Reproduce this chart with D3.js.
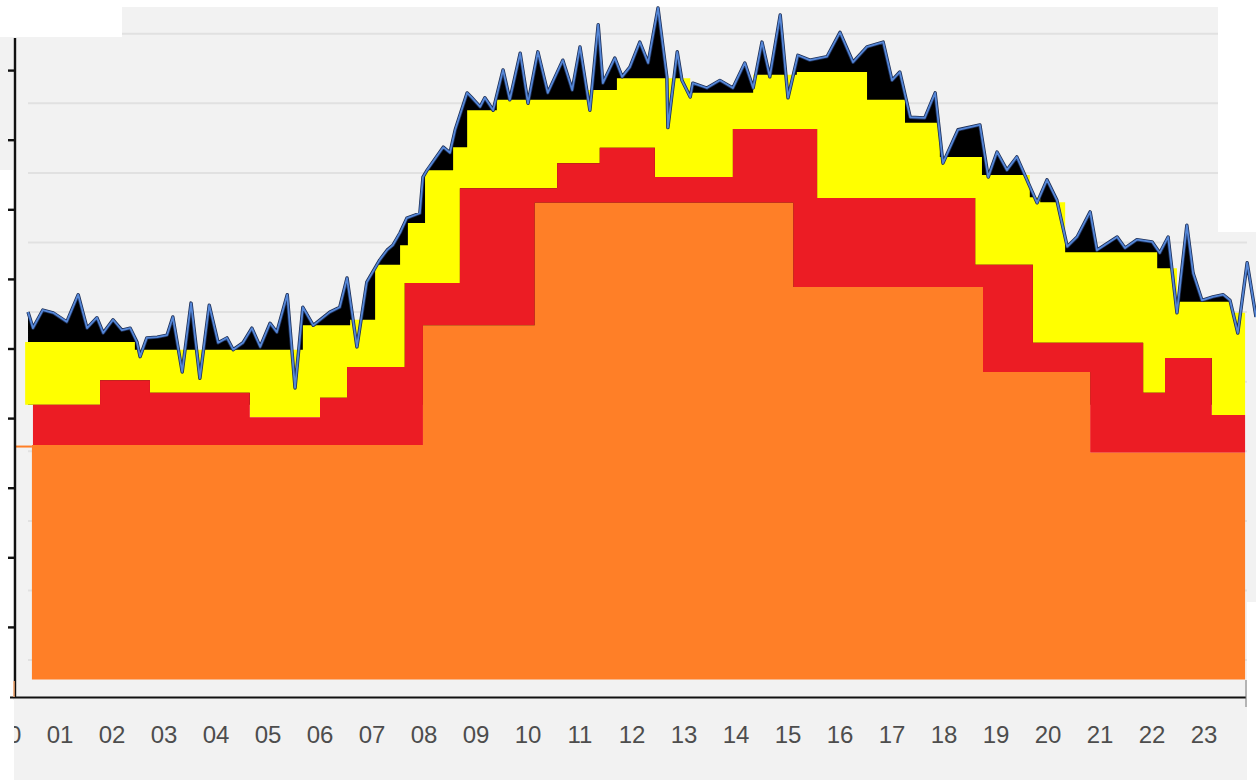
<!DOCTYPE html>
<html>
<head>
<meta charset="utf-8">
<script src="https://cdn.jsdelivr.net/npm/d3@7"></script>
<style>
  html, body { margin: 0; padding: 0; background: #ffffff; }
  svg { display: block; }
</style>
</head>
<body>
<svg id="chart" width="1256" height="780"></svg>
<script>
// ---------------- data (hours on x, arbitrary units on y) ----------------
const hourLabels = ["00","01","02","03","04","05","06","07","08","09","10","11",
                    "12","13","14","15","16","17","18","19","20","21","22","23"];
const yTicks = [1, 2, 3, 4, 5, 6, 7, 8, 9];
const baseValue = 0.25;

// step series (cumulative top of each band): breakpoints (hours) and level held until next breakpoint
const orangeT = [0.46, 7.98, 10.13, 15.10, 18.75, 20.81, 23.79];
const orangeV = [3.62, 5.34, 7.10, 5.89, 4.67, 3.51];

const redT = [0.48, 1.77, 2.73, 4.65, 6.00, 6.52, 7.63, 8.69, 10.56, 11.38, 12.44,
              13.94, 15.56, 18.60, 19.71, 21.83, 22.25, 23.15, 23.79];
const redV = [4.20, 4.55, 4.37, 4.02, 4.30, 4.74, 5.95, 7.31, 7.67, 7.89, 7.47,
              8.16, 7.17, 6.21, 5.09, 4.37, 4.87, 4.05];

const yellowT = [0.33, 2.44, 5.67, 6.58, 7.06, 7.54, 7.69, 8.02, 8.56, 8.83, 9.40,
                 11.13, 11.71, 13.12, 14.33, 15.17, 16.52, 17.25, 17.92, 18.73,
                 19.65, 19.85, 20.33, 22.10, 22.48, 23.54, 23.79];
const yellowV = [5.10, 4.99, 5.34, 5.42, 6.21, 6.49, 6.81, 7.57, 7.90, 8.43, 8.58,
                 8.72, 8.89, 8.68, 8.94, 8.98, 8.58, 8.25, 7.76, 7.50,
                 7.18, 7.11, 6.39, 6.16, 5.68, 5.52];

// measured (blue) line
const lineT = [0.385,0.48,0.67,0.87,1.13,1.35,1.52,1.71,1.83,2.02,2.19,2.35,2.48,2.54,2.67,2.87,
  3.06,3.17,3.35,3.52,3.69,3.87,4.04,4.21,4.33,4.52,4.69,4.85,5.04,5.17,5.37,5.52,5.67,5.87,
  6.19,6.38,6.52,6.71,6.90,7.15,7.29,7.40,7.54,7.67,7.92,7.98,8.06,8.37,8.50,8.60,8.83,8.92,
  9.08,9.17,9.33,9.52,9.65,9.85,10.00,10.19,10.38,10.67,10.85,11.00,11.19,11.35,11.44,11.67,
  11.81,11.96,12.15,12.31,12.50,12.67,12.69,12.87,12.96,13.12,13.17,13.44,13.69,13.94,14.17,
  14.33,14.50,14.65,14.85,15.00,15.19,15.42,15.75,16.00,16.25,16.52,16.83,17.00,17.15,17.35,
  17.63,17.83,17.98,18.27,18.69,18.85,19.02,19.21,19.40,19.79,19.98,20.17,20.37,20.56,20.81,
  20.94,21.33,21.48,21.71,22.00,22.15,22.31,22.48,22.67,22.79,22.96,23.17,23.37,23.50,23.65,
  23.83,24.00];
const lineV = [5.53,5.30,5.56,5.52,5.39,5.78,5.30,5.45,5.23,5.42,5.27,5.30,5.10,4.89,5.16,5.17,
  5.20,5.46,4.67,5.66,4.58,5.63,5.09,5.16,4.99,5.09,5.30,5.03,5.37,5.24,5.78,4.44,5.60,5.34,
  5.53,5.60,6.02,5.03,5.96,6.28,6.42,6.49,6.67,6.88,6.95,7.47,7.57,7.90,7.82,8.15,8.68,8.61,
  8.48,8.61,8.43,9.01,8.58,9.25,8.53,9.27,8.68,9.15,8.72,9.34,8.43,9.66,8.82,9.18,
  8.91,9.05,9.41,9.11,9.90,8.91,8.18,9.27,8.86,8.62,8.82,8.75,8.86,8.75,9.11,
  8.75,9.41,8.91,9.80,8.61,9.22,9.15,9.20,9.55,9.12,9.34,9.41,8.86,8.98,8.33,
  8.32,8.68,7.67,8.15,8.22,7.47,7.83,7.57,7.76,7.10,7.43,7.14,6.47,6.61,6.97,
  6.42,6.61,6.45,6.57,6.54,6.38,6.61,5.52,6.78,6.09,5.70,5.75,5.78,5.70,5.23,
  6.24,5.46];

// ---------------- drawing ----------------
const svg = d3.select("#chart");
const x = d3.scaleLinear().domain([0, 24]).range([8, 8 + 52 * 24]);
const y = d3.scaleLinear().domain([0, 10]).range([697, 1]);

const bgGray = "#f2f2f2";
// collage-like backdrop
[[122, 7, 1096, 30], [0, 37, 1218, 133], [13, 170, 1205, 610],
 [1218, 232, 29, 548], [1247, 232, 9, 370]].forEach(r => {
  svg.append("rect").attr("x", r[0]).attr("y", r[1]).attr("width", r[2]).attr("height", r[3])
     .attr("fill", bgGray);
});

// gridlines (between ticks)
const gridVals = d3.range(0, 10).map(k => k + 0.53);
svg.append("g").selectAll("line").data(gridVals).join("line")
  .attr("x1", d => y(d) < 37 ? 122 : 28)
  .attr("x2", d => y(d) > 232 ? 1247 : 1218)
  .attr("y1", d => y(d)).attr("y2", d => y(d))
  .attr("stroke", "#e1e1e1").attr("stroke-width", 2);

// level of a step series at time t (clamped to its first/last level)
function levelAt(T, V, t) {
  if (t < T[0]) return V[0];
  for (let i = 0; i < V.length; i++) {
    if (t >= T[i] && t < T[i + 1]) return V[i];
  }
  return V[V.length - 1];
}
// band between a step series and the one below it, on the union of breakpoints
function bandPoints(T, V, lowT, lowV) {
  const t0 = T[0], t1 = T[T.length - 1];
  let ts = T.slice();
  if (lowT) ts = ts.concat(lowT.filter(t => t > t0 && t < t1));
  ts = Array.from(new Set(ts)).sort((a, b) => a - b);
  return ts.map(t => {
    const tt = t >= t1 ? t1 - 1e-9 : t;
    return {
      t: t,
      top: levelAt(T, V, tt),
      low: lowT ? levelAt(lowT, lowV, tt) : baseValue
    };
  });
}
const bandArea = d3.area()
  .x(d => x(d.t)).y0(d => y(d.low)).y1(d => y(d.top))
  .curve(d3.curveStepAfter);

// black fill under the measured line (sits on top of the stack)
const linePts = lineT.map((t, i) => [t, lineV[i]]);
const blackPts = linePts.filter(d => d[0] <= yellowT[yellowT.length - 1]);
svg.append("path")
  .datum(blackPts)
  .attr("d", d3.area().x(d => x(d[0])).y0(y(redV[0])).y1(d => y(d[1])))
  .attr("fill", "#000000");

svg.append("path").datum(bandPoints(yellowT, yellowV, redT, redV)).attr("d", bandArea).attr("fill", "#ffff00");
svg.append("path").datum(bandPoints(redT, redV, orangeT, orangeV)).attr("d", bandArea).attr("fill", "#ec1c24");
svg.append("path").datum(bandPoints(orangeT, orangeV, null, null)).attr("d", bandArea).attr("fill", "#ff7f27");

// small orange lead-in line on the left
svg.append("line")
  .attr("x1", 15).attr("x2", x(orangeT[0]))
  .attr("y1", y(orangeV[0]) + 1.5).attr("y2", y(orangeV[0]) + 1.5)
  .attr("stroke", "#ff7f27").attr("stroke-width", 2);

// blue measured line
const lineGen = d3.line().x(d => x(d[0])).y(d => y(d[1]));
svg.append("path")
  .datum(linePts).attr("d", lineGen)
  .attr("fill", "none")
  .attr("stroke", "#1d2f57").attr("stroke-width", 3.4).attr("stroke-linejoin", "round");
svg.append("path")
  .datum(linePts).attr("d", lineGen)
  .attr("fill", "none")
  .attr("stroke", "#5587d8").attr("stroke-width", 1.8).attr("stroke-linejoin", "round");

// y axis
svg.append("line").attr("x1", 15).attr("x2", 15).attr("y1", 38).attr("y2", 697)
  .attr("stroke", "#111").attr("stroke-width", 2.4);
svg.append("g").selectAll("line").data(yTicks).join("line")
  .attr("x1", 8).attr("x2", 15)
  .attr("y1", d => y(d)).attr("y2", d => y(d))
  .attr("stroke", "#111").attr("stroke-width", 2.4);

// x axis
svg.append("line").attr("x1", 10).attr("x2", 1246).attr("y1", 697.5).attr("y2", 697.5)
  .attr("stroke", "#111").attr("stroke-width", 2);
svg.append("line").attr("x1", 1246).attr("x2", 1246).attr("y1", 680).attr("y2", 707)
  .attr("stroke", "#777").attr("stroke-width", 1);
svg.append("line").attr("x1", 14).attr("x2", 14).attr("y1", 681).attr("y2", 697)
  .attr("stroke", "#ffb27a").attr("stroke-width", 1.5);

svg.append("g").selectAll("text").data(hourLabels).join("text")
  .attr("x", (d, i) => x(i))
  .attr("y", 743)
  .attr("text-anchor", "middle")
  .attr("font-family", "'Liberation Sans', Arial, sans-serif")
  .attr("font-size", 24)
  .attr("fill", "#4d4d4d")
  .text(d => d);

// white collage edge hiding the first label's left part (as in the reference)
svg.append("rect").attr("x", 0).attr("y", 700).attr("width", 14).attr("height", 80).attr("fill", "#ffffff");
</script>
</body>
</html>
